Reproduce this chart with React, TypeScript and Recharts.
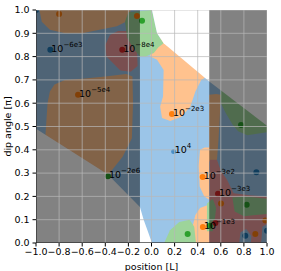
import { ScatterChart, Scatter, XAxis, YAxis } from 'recharts'

type P = [number, number]

const xTicks = [-1, -0.8, -0.6, -0.4, -0.2, 0, 0.2, 0.4, 0.6, 0.8, 1]
const yTicks = [0, 0.1, 0.2, 0.3, 0.4, 0.5, 0.6, 0.7, 0.8, 0.9, 1]

// region outlines in data units (position, dip angle)
const fullBox: P[] = [[-1, 0], [1, 0], [1, 1], [-1, 1]]
const orangeTopLeft: P[] = [[-0.97, 1], [-0.18, 1], [-0.2, 0.955], [-0.3, 0.93], [-0.45, 0.915], [-0.6, 0.9], [-0.75, 0.9], [-0.88, 0.915], [-0.95, 0.95]]
const orangeBig: P[] = [[-0.84, 0.68], [-0.75, 0.7], [-0.6, 0.705], [-0.4, 0.715], [-0.22, 0.725], [-0.165, 0.715], [-0.16, 0.6], [-0.17, 0.45], [-0.25, 0.37], [-0.38, 0.29], [-0.6, 0.36], [-0.92, 0.45], [-0.9, 0.6], [-0.88, 0.65]]
const orangeUpper: P[] = [[-0.01, 0.87], [0.1, 0.88], [0.5, 0.72], [0.43, 0.7], [0.38, 0.65], [0.336, 0.586], [0.264, 0.543], [0.163, 0.524], [0.091, 0.536], [0.075, 0.586], [0.1, 0.629], [0.105, 0.743], [0.048, 0.786], [-0.01, 0.8]]
const orangeMid: P[] = [[0.42, 0.4], [0.46, 0.41], [0.5, 0.41], [0.5, 0.636], [0.56, 0.64], [0.6, 0.636], [0.59, 0.529], [0.58, 0.443], [0.567, 0.357], [0.5, 0.35], [0.5, 0.186], [0.457, 0.2], [0.417, 0.243], [0.408, 0.33]]
const orangeLowRight: P[] = [[0.55, 0.19], [0.62, 0.2], [0.69, 0.185], [0.7, 0.15], [0.66, 0.125], [0.6, 0.125], [0.55, 0.15]]
const orangeBottom: P[] = [[0.345, 0], [0.355, 0.07], [0.38, 0.12], [0.42, 0.15], [0.5, 0.165], [0.5, 0]]
const orangeCorner1: P[] = [[0.87, 0], [0.87, 0.06], [0.93, 0.06], [0.94, 0]]
const orangeCorner2: P[] = [[0.95, 0.08], [0.97, 0.12], [1, 0.125], [1, 0.08]]
const redTop: P[] = [[-0.36, 0.893], [-0.29, 0.91], [-0.21, 0.91], [-0.13, 0.89], [-0.12, 0.76], [-0.18, 0.735], [-0.27, 0.74], [-0.33, 0.77], [-0.39, 0.8], [-0.4, 0.85]]
const redLow: P[] = [[0.504, 0.357], [0.567, 0.357], [0.6, 0.31], [0.654, 0.271], [0.711, 0.214], [0.85, 0.205], [1, 0.2], [1, 0.043], [0.94, 0], [0.5, 0]]
const greenTop: P[] = [[-0.2, 0.99], [0.004, 1], [0.048, 0.9], [0.105, 0.857], [0.06, 0.84], [0.02, 0.815], [-0.05, 0.8], [-0.1, 0.8], [-0.15, 0.83], [-0.21, 0.88], [-0.23, 0.95]]
const greenBand: P[] = [[0.6, 0.7], [1, 0.53], [1, 0.475], [0.9, 0.468], [0.83, 0.462], [0.75, 0.48], [0.7, 0.51], [0.64, 0.56], [0.6, 0.6]]
const greenLowRight: P[] = [[0.7, 0.195], [0.8, 0.2], [0.9, 0.195], [1, 0.19], [1, 0.125], [0.9, 0.12], [0.8, 0.115], [0.72, 0.135]]
const greenMid: P[] = [[0.48, 0.17], [0.53, 0.19], [0.56, 0.15], [0.55, 0.11], [0.53, 0.05], [0.48, 0.05]]
const greenBottom: P[] = [[0.11, 0], [0.16, 0.055], [0.24, 0.09], [0.33, 0.1], [0.37, 0.07], [0.385, 0]]
const blueCorner1: P[] = [[0.76, 0], [0.77, 0.045], [0.82, 0.06], [0.865, 0.03], [0.86, 0]]
const blueCorner2: P[] = [[0.95, 0], [0.96, 0.07], [1, 0.08], [1, 0]]
const whiteLow: P[] = [[-1, 0.49], [-0.38, 0.295], [-0.1, 0.155], [-0.068, 0.1], [-0.035, 0.055], [0.004, 0], [-1, 0]]
const whiteHigh: P[] = [[0.004, 1], [0.03, 0.94], [0.048, 0.9], [0.105, 0.857], [0.5, 0.693], [1, 0.503], [1, 1]]
const shadeLeft: P[] = [[-1, 0], [-0.1, 0], [-0.1, 1], [-1, 1]]
const shadeRight: P[] = [[0.5, 0], [1, 0], [1, 1], [0.5, 1]]

// sample points per class
const bluePts: P[] = [[-1, 1], [-0.876, 0.829], [0.908, 0.304], [0.812, 0.031], [1, 0.053]]
const paleBluePts: P[] = [[0.192, 0.393]]
const orangePts: P[] = [[-0.8, 0.983], [-0.126, 0.974], [-0.636, 0.636], [0.177, 0.554], [0.443, 0.283], [0.602, 0.169], [0.445, 0.069], [0.899, 0.039], [0.986, 0.097]]
const greenPts: P[] = [[-0.082, 0.954], [0.775, 0.506], [-0.377, 0.286], [0.824, 0.164], [0.504, 0.074], [0.313, 0.039]]
const redPts: P[] = [[-0.253, 0.829], [0.576, 0.211], [0.553, 0.086]]

const annotX = [-0.876, -0.253, -0.636, 0.177, 0.192, -0.377, 0.443, 0.576, 0.445]
const annotY = [0.829, 0.829, 0.636, 0.554, 0.393, 0.286, 0.283, 0.211, 0.069]
const annotExp = ['\u22126e3', '\u22128e4', '\u22125e4', '\u22122e3', '4', '\u22122e6', '\u22123e2', '\u22123e3', '\u22121e3']

const FONT = 'DejaVu Sans'
const toXY = (pts: P[]) => pts.map(([x, y]) => ({ x, y }))
const noDot = () => <g />

const region = (key: string, pts: P[], fill: string, opacity = 1) => (
  <Scatter
    key={key}
    data={toXY(pts)}
    isAnimationActive={false}
    shape={noDot}
    line={{ fill, fillOpacity: opacity, stroke: 'none' }}
    lineType="joint"
  />
)

const segment = (key: string, pts: P[], stroke: string, opacity = 1) => (
  <Scatter
    key={key}
    data={toXY(pts)}
    isAnimationActive={false}
    shape={noDot}
    line={{ stroke, strokeOpacity: opacity, strokeWidth: 1, fill: 'none' }}
    lineType="joint"
  />
)

const dots = (key: string, pts: P[], fill: string, r = 3) => (
  <Scatter
    key={key}
    data={toXY(pts)}
    isAnimationActive={false}
    shape={(p: any) => <circle cx={p.cx} cy={p.cy} r={r} fill={fill} />}
  />
)

const Annot = (p: any) => (
  <text x={p.cx + 1} y={p.cy + 2} fontSize={9.5} fontFamily={FONT} fill="#000">
    10
    <tspan dy={-5} fontSize={7}>{p.payload.exp}</tspan>
  </text>
)

const annotData = annotX.map((x, i) => ({ x, y: annotY[i], exp: annotExp[i] }))
const fmt = (v: number) => v.toFixed(1).replace('-', '\u2212')

export default function App() {
  return (
    <div style={{ position: 'absolute', left: 0, top: 0, background: '#fff' }}>
      <ScatterChart width={281} height={271} margin={{ top: 10, right: 14, left: 0, bottom: 0 }}>
        <XAxis
          type="number"
          dataKey="x"
          domain={[-1, 1]}
          ticks={xTicks}
          allowDataOverflow
          tickFormatter={fmt}
          height={28}
          axisLine={false}
          tickSize={3.5}
          tickMargin={2}
          tickLine={{ stroke: '#000' }}
          tick={{ fill: '#000', fontSize: 9.5, fontFamily: FONT }}
          interval={0}
          label={(p: any) => (
            <text
              x={p.viewBox.x + p.viewBox.width / 2}
              y={p.viewBox.y + 23}
              textAnchor="middle"
              dominantBaseline="central"
              fontSize={9.5}
              fontFamily={FONT}
              fill="#000"
            >
              position [L]
            </text>
          )}
        />
        <YAxis
          type="number"
          dataKey="y"
          domain={[0, 1]}
          ticks={yTicks}
          allowDataOverflow
          tickFormatter={(v: number) => v.toFixed(1)}
          width={36}
          axisLine={false}
          tickSize={3.5}
          tickMargin={3}
          tickLine={{ stroke: '#000' }}
          tick={{ fill: '#000', fontSize: 9.5, fontFamily: FONT }}
          interval={0}
          label={(p: any) => {
            const cx = p.viewBox.x + 7
            const cy = p.viewBox.y + p.viewBox.height / 2
            return (
              <text
                x={cx}
                y={cy}
                transform={`rotate(-90, ${cx}, ${cy})`}
                textAnchor="middle"
                dominantBaseline="central"
                fontSize={9.5}
                fontFamily={FONT}
                fill="#000"
              >
                dip angle [π]
              </text>
            )
          }}
        />
        {region('base', fullBox, '#9bc5e8')}
        {region('o1', orangeTopLeft, '#ffc28e')}
        {region('o2', orangeBig, '#ffc28e')}
        {region('o3', orangeUpper, '#ffc28e')}
        {region('o4', orangeMid, '#ffc28e')}
        {region('o5', orangeLowRight, '#ffc28e')}
        {region('o6', orangeBottom, '#ffc28e')}
        {region('o7', orangeCorner1, '#ffc28e')}
        {region('o8', orangeCorner2, '#ffc28e')}
        {region('r1', redTop, '#ee9c9e')}
        {region('r2', redLow, '#ee9c9e')}
        {region('g1', greenTop, '#9dd49a')}
        {region('g2', greenBand, '#9dd49a')}
        {region('g3', greenLowRight, '#9dd49a')}
        {region('g4', greenMid, '#9dd49a')}
        {region('g5', greenBottom, '#9dd49a')}
        {region('b1', blueCorner1, '#9bc5e8')}
        {region('b2', blueCorner2, '#9bc5e8')}
        {region('w1', whiteLow, '#ffffff')}
        {region('w2', whiteHigh, '#ffffff')}
        {dots('pb', bluePts, '#1f77b4')}
        {dots('pl', paleBluePts, '#4a8fc6', 2.5)}
        {dots('po', orangePts, '#ff7f0e')}
        {dots('pg', greenPts, '#2ca02c')}
        {dots('pr', redPts, '#d62728')}
        {region('sl', shadeLeft, '#000', 0.49)}
        {region('sr', shadeRight, '#000', 0.49)}
        {xTicks.map((t) => segment(`gx${t}`, [[t, 0], [t, 1]], '#b8b8b8', 0.7))}
        {yTicks.map((t) => segment(`gy${t}`, [[-1, t], [1, t]], '#b8b8b8', 0.7))}
        {segment('spl', [[-1, 0], [-1, 1]], '#000')}
        {segment('spb', [[-1, 0], [1, 0]], '#000')}
        <Scatter data={annotData} isAnimationActive={false} shape={Annot} />
      </ScatterChart>
    </div>
  )
}
